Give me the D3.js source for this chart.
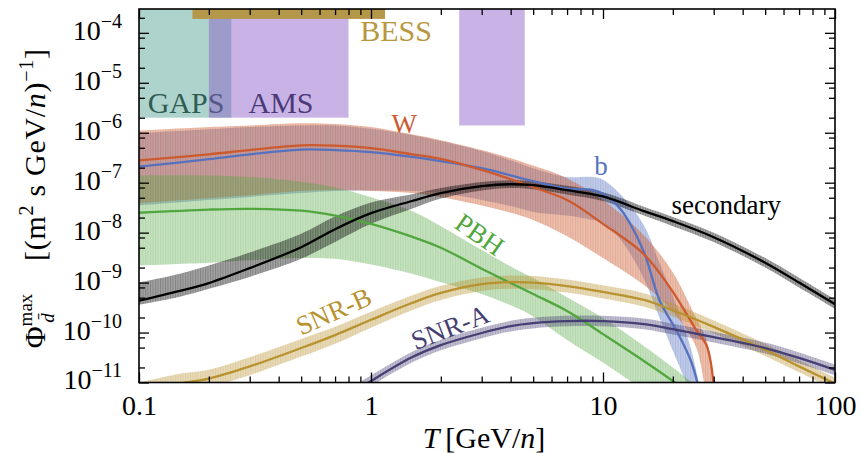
<!DOCTYPE html>
<html>
<head>
<meta charset="utf-8">
<script src="https://cdn.jsdelivr.net/npm/d3@7"></script>
<style>
  body { margin: 0; background: #fff; }
  svg { display: block; }
  text { font-family: "Liberation Serif", "DejaVu Serif", serif; }
</style>
</head>
<body>
<svg width="862" height="454"></svg>
<script>
// kinetic energy per nucleon [GeV/n] and antideuteron flux [(m^2 s GeV/n)^-1]
var tSec = [0.1, 0.15, 0.2, 0.3, 0.5, 0.7, 1, 1.5, 2, 3, 4, 5, 7, 10, 15, 20, 30, 50, 70, 100];
var secMid = [4.33e-10, 6.8e-10, 9.8e-10, 1.95e-9, 5.1e-9, 1.17e-8, 2.45e-8, 4.3e-8, 6.2e-8, 8.5e-8, 9.3e-8, 8.9e-8, 7.1e-8, 5.3e-8, 2.7e-8, 1.7e-8, 8.1e-9, 2.5e-9, 1.0e-9, 3.7e-10];
var secHi = [1.0e-9, 1.5e-9, 2.2e-9, 4.0e-9, 9.5e-9, 2.1e-8, 4.0e-8, 5.9e-8, 7.8e-8, 1.03e-7, 1.12e-7, 1.07e-7, 8.7e-8, 6.4e-8, 3.3e-8, 2.05e-8, 1.0e-8, 3.1e-9, 1.25e-9, 4.6e-10];
var secLo = [3.6e-10, 5.2e-10, 7.5e-10, 1.3e-9, 3.0e-9, 6.5e-9, 1.5e-8, 3.0e-8, 4.8e-8, 7.0e-8, 7.8e-8, 7.4e-8, 5.8e-8, 4.3e-8, 2.2e-8, 1.35e-8, 6.5e-9, 2.0e-9, 8e-10, 3e-10];

var tW = [0.1, 0.2, 0.3, 0.5, 0.7, 1, 1.5, 2, 3, 4, 5, 7, 10, 15, 20, 25, 28, 30];
var wMid = [2.8e-7, 3.7e-7, 4.5e-7, 5.6e-7, 5.5e-7, 4.9e-7, 3.7e-7, 3.0e-7, 1.8e-7, 1.17e-7, 8.1e-8, 4.5e-8, 1.5e-8, 3.7e-9, 6.5e-10, 1.2e-10, 5.4e-11, 9e-12];
var wHi = [1.1e-6, 1.3e-6, 1.4e-6, 1.55e-6, 1.5e-6, 1.3e-6, 9.3e-7, 7.1e-7, 4.5e-7, 3.1e-7, 2.2e-7, 1.23e-7, 4.5e-8, 8.9e-9, 1.6e-9, 2.1e-10, 7e-11, 1.1e-11];
var wLo = [3.9e-8, 4.9e-8, 5.6e-8, 6.8e-8, 7.1e-8, 6.8e-8, 6.2e-8, 5.1e-8, 3.5e-8, 2.5e-8, 1.8e-8, 8.5e-9, 3.1e-9, 8.9e-10, 2.6e-10, 5.6e-11, 6e-12, 3e-12];

var tB = [0.1, 0.2, 0.3, 0.5, 0.7, 1, 1.5, 2, 3, 4, 5, 7, 9, 10, 12, 15, 17.5, 21, 24, 26];
var bMid = [2.1e-7, 2.95e-7, 3.7e-7, 4.6e-7, 4.5e-7, 4.1e-7, 3.3e-7, 2.7e-7, 1.95e-7, 1.4e-7, 1.07e-7, 7.6e-8, 7.2e-8, 6.0e-8, 2.8e-8, 4.1e-9, 4.5e-10, 9.8e-11, 2.6e-11, 7e-12];
var bHi = [9.8e-7, 1.17e-6, 1.3e-6, 1.4e-6, 1.4e-6, 1.2e-6, 9e-7, 6.8e-7, 4.3e-7, 2.8e-7, 1.95e-7, 1.3e-7, 1.3e-7, 1.15e-7, 5.6e-8, 1.4e-8, 2.5e-9, 3e-10, 4.5e-11, 9e-12];
var bLo = [3.5e-8, 4.5e-8, 5.2e-8, 6.2e-8, 6.8e-8, 7e-8, 6.8e-8, 6.2e-8, 4.5e-8, 3.4e-8, 2.6e-8, 2.2e-8, 1.8e-8, 1.6e-8, 7e-9, 1.2e-9, 2e-10, 2.5e-11, 6e-12, 3e-12];

var tP = [0.1, 0.2, 0.3, 0.5, 0.7, 1, 1.5, 2, 3, 4, 5, 7, 10, 15, 20, 25];
var pMid = [2.5e-8, 2.9e-8, 3.0e-8, 2.75e-8, 2.2e-8, 1.5e-8, 8.3e-9, 5.0e-9, 1.9e-9, 9.8e-10, 5.9e-10, 2.7e-10, 9.3e-11, 2.7e-11, 1.07e-11, 4.9e-12];
var pHi = [1.4e-7, 1.4e-7, 1.3e-7, 1.05e-7, 8.1e-8, 5.1e-8, 2.7e-8, 1.35e-8, 4.5e-9, 2.1e-9, 1.23e-9, 5.1e-10, 1.95e-10, 5.4e-11, 2e-11, 9e-12];
var pLo = [2.2e-9, 2.5e-9, 2.8e-9, 3.1e-9, 3.0e-9, 2.3e-9, 1.5e-9, 1.02e-9, 5.9e-10, 3.5e-10, 2.1e-10, 7.1e-11, 2.5e-11, 7e-12, 3e-12, 2e-12];

var tSB = [0.1, 0.15, 0.2, 0.3, 0.5, 0.7, 1, 1.5, 2, 3, 4, 5, 7, 10, 15, 20, 30, 50, 70, 100];
var sbMid = [5.5e-12, 9.5e-12, 1.2e-11, 2.1e-11, 4.9e-11, 8.9e-11, 1.8e-10, 3.9e-10, 6.2e-10, 9.3e-10, 1.02e-9, 1.0e-9, 8.5e-10, 6.5e-10, 4.5e-10, 2.8e-10, 1.3e-10, 4.5e-11, 2.1e-11, 9.5e-12];
var sbHi = [1.0e-11, 1.5e-11, 1.8e-11, 3.2e-11, 7.4e-11, 1.3e-10, 2.6e-10, 5.5e-10, 8.6e-10, 1.27e-9, 1.38e-9, 1.35e-9, 1.15e-9, 8.8e-10, 6.1e-10, 3.8e-10, 1.75e-10, 6e-11, 2.8e-11, 1.25e-11];
var sbLo = [3.5e-12, 6e-12, 8e-12, 1.4e-11, 3.3e-11, 6e-11, 1.25e-10, 2.8e-10, 4.5e-10, 6.8e-10, 7.5e-10, 7.4e-10, 6.3e-10, 4.8e-10, 3.3e-10, 2.1e-10, 9.7e-11, 3.4e-11, 1.6e-11, 7.2e-12];

var tSA = [0.8, 0.9, 1, 1.5, 2, 3, 4, 5, 7, 10, 15, 20, 30, 50, 70, 100];
var saMid = [5e-12, 7.8e-12, 1.07e-11, 3.2e-11, 5.6e-11, 9.8e-11, 1.35e-10, 1.55e-10, 1.7e-10, 1.7e-10, 1.48e-10, 1.17e-10, 8.1e-11, 4.9e-11, 3.1e-11, 1.78e-11];
var saHi = [9e-12, 1.05e-11, 1.4e-11, 4.1e-11, 7.2e-11, 1.25e-10, 1.72e-10, 1.98e-10, 2.17e-10, 2.17e-10, 1.9e-10, 1.5e-10, 1.04e-10, 6.3e-11, 4e-11, 2.3e-11];
var saLo = [3e-12, 6e-12, 8.4e-12, 2.5e-11, 4.4e-11, 7.7e-11, 1.05e-10, 1.21e-10, 1.33e-10, 1.33e-10, 1.16e-10, 9.1e-11, 6.3e-11, 3.8e-11, 2.4e-11, 1.4e-11];

// experiment sensitivities
var gapsRange = [0.05, 0.25], gapsLimit = 2e-6;
var amsRanges = [[0.2, 0.8], [2.4, 4.6]], amsLimits = [2e-6, 1.4e-6];
var bessRange = [0.17, 1.15], bessLimit = 1.9e-4;

var xMajor = [0.1, 1, 10, 100];
var yMajor = [1e-11, 1e-10, 1e-9, 1e-8, 1e-7, 1e-6, 1e-5, 1e-4];

var svg = d3.select("svg");
var padL = 139, padR = 835, padT = 9, padB = 382.5;

var x = d3.scaleLog().domain([0.1, 100]).range([padL, padR]);
var y = d3.scaleLog().domain([1e-11, 3e-4]).range([padB, padT]);

var xMinor = [];
[0.1, 1, 10].forEach(function (p) {
    for (var k = 2; k <= 9; k++) xMinor.push(k * p);
});
var yMinor = [];
yMajor.forEach(function (p) {
    [2, 5, 8].forEach(function (k) {
        if (k * p < 3e-4) yMinor.push(k * p);
    });
});

var series = [
    { name: "b", t: tB, mid: bMid, lo: bLo, hi: bHi, color: "#5672bf", op: 0.45 },
    { name: "W", t: tW, mid: wMid, lo: wLo, hi: wHi, color: "#cc5a2e", op: 0.48 },
    { name: "PBH", t: tP, mid: pMid, lo: pLo, hi: pHi, color: "#51a63e", op: 0.4 },
    { name: "SNR-B", t: tSB, mid: sbMid, lo: sbLo, hi: sbHi, color: "#b8922f", op: 0.42 },
    { name: "SNR-A", t: tSA, mid: saMid, lo: saLo, hi: saHi, color: "#463f73", op: 0.42 },
    { name: "secondary", t: tSec, mid: secMid, lo: secLo, hi: secHi, color: "#000000", op: 0.45 }
];

var defs = svg.append("defs");
defs.append("clipPath").attr("id", "plot")
    .append("rect")
    .attr("x", padL).attr("y", padT)
    .attr("width", padR - padL).attr("height", padB - padT);

// striped fill, like many thin error bars side by side
series.forEach(function (s, i) {
    var p = defs.append("pattern").attr("id", "band" + i)
        .attr("patternUnits", "userSpaceOnUse")
        .attr("width", 2.5).attr("height", 10);
    p.append("rect").attr("width", 2.5).attr("height", 10)
        .attr("fill", s.color).attr("fill-opacity", s.op * 0.8);
    p.append("rect").attr("width", 1).attr("height", 10)
        .attr("fill", s.color).attr("fill-opacity", s.op * 0.45);
});

var plot = svg.append("g").attr("clip-path", "url(#plot)");

// detector regions
plot.append("rect")
    .attr("x", x(gapsRange[0])).attr("y", padT)
    .attr("width", x(gapsRange[1]) - x(gapsRange[0]))
    .attr("height", y(gapsLimit) - padT)
    .attr("fill", "#449988").attr("fill-opacity", 0.43);

plot.append("text").attr("x", 186).attr("y", 113)
    .attr("text-anchor", "middle").attr("font-size", 30)
    .attr("fill", "#2f5c53").text("GAPS");

amsRanges.forEach(function (r, i) {
    plot.append("rect")
        .attr("x", x(r[0])).attr("y", padT)
        .attr("width", x(r[1]) - x(r[0]))
        .attr("height", y(amsLimits[i]) - padT)
        .attr("fill", "#8756c7").attr("fill-opacity", 0.45);
});

plot.append("text").attr("x", 281).attr("y", 113)
    .attr("text-anchor", "middle").attr("font-size", 30)
    .attr("fill", "#4b3a78").text("AMS");

plot.append("rect")
    .attr("x", x(bessRange[0])).attr("y", padT)
    .attr("width", x(bessRange[1]) - x(bessRange[0]))
    .attr("height", y(bessLimit) - padT)
    .attr("fill", "#b5974a");

svg.append("text").attr("x", 396).attr("y", 41)
    .attr("text-anchor", "middle").attr("font-size", 30)
    .attr("fill", "#b8973f").text("BESS");

// model curves with uncertainty bands
var area = d3.area()
    .x(function (d) { return x(d.t); })
    .y0(function (d) { return y(d.lo); })
    .y1(function (d) { return y(d.hi); })
    .curve(d3.curveCatmullRom.alpha(0.5));

var line = d3.line()
    .x(function (d) { return x(d.t); })
    .y(function (d) { return y(d.v); })
    .curve(d3.curveCatmullRom.alpha(0.5));

series.forEach(function (s, i) {
    var pts = s.t.map(function (t, k) { return { t: t, lo: s.lo[k], hi: s.hi[k] }; });
    plot.append("path").attr("d", area(pts))
        .attr("fill", "url(#band" + i + ")");
});

series.forEach(function (s) {
    var pts = s.t.map(function (t, k) { return { t: t, v: s.mid[k] }; });
    plot.append("path").attr("d", line(pts))
        .attr("fill", "none").attr("stroke", s.color)
        .attr("stroke-width", 2.3);
});

// curve labels: [text, T, flux, rotation, colour]
var labels = [
    ["W", 1.39, 1.0e-6, 0, "#cc5a2e"],
    ["b", 9.8, 1.41e-7, 0, "#5672bf"],
    ["secondary", 34, 2.34e-8, 0, "#000000"],
    ["PBH", 2.95, 9.3e-9, 35, "#51a63e"],
    ["SNR-B", 0.69, 2.7e-10, -24, "#b8922f"],
    ["SNR-A", 2.19, 1.29e-10, -21, "#463f73"]
];

labels.forEach(function (l) {
    var t = svg.append("text")
        .attr("transform", "translate(" + x(l[1]) + "," + y(l[2]) + ") rotate(" + l[3] + ")")
        .attr("text-anchor", "middle")
        .attr("font-size", 27)
        .attr("fill", l[4])
        .text(l[0]);
    if (l[3] !== 0) t.attr("dy", "0.35em");
});

// axes, ticks pointing inward on all four sides
function styleAxis(g) {
    g.select(".domain").remove();
    g.selectAll(".tick line").attr("stroke", "#000").attr("stroke-width", 1.3);
}

svg.append("g").attr("transform", "translate(0," + padB + ")")
    .call(d3.axisBottom(x).tickValues(xMajor).tickSize(-10).tickPadding(13)
        .tickFormat(function (d) { return d < 1 ? "0.1" : d3.format("d")(d); }))
    .call(styleAxis)
    .call(function (g) {
        g.selectAll(".tick text").attr("font-size", 28).attr("fill", "#000")
            .attr("font-family", "Liberation Serif");
    });
svg.append("g").attr("transform", "translate(0," + padB + ")")
    .call(d3.axisBottom(x).tickValues(xMinor).tickSize(-6).tickFormat(""))
    .call(styleAxis);
svg.append("g").attr("transform", "translate(0," + padT + ")")
    .call(d3.axisTop(x).tickValues(xMajor).tickSize(-10).tickFormat(""))
    .call(styleAxis);
svg.append("g").attr("transform", "translate(0," + padT + ")")
    .call(d3.axisTop(x).tickValues(xMinor).tickSize(-6).tickFormat(""))
    .call(styleAxis);

svg.append("g").attr("transform", "translate(" + padL + ",0)")
    .call(d3.axisLeft(y).tickValues(yMajor).tickSize(-10).tickPadding(17).tickFormat(""))
    .call(styleAxis)
    .call(function (g) {
        g.selectAll(".tick text").each(function (d) {
            var t = d3.select(this)
                .attr("font-size", 28).attr("fill", "#000").attr("dy", "0.23em")
                .attr("font-family", "Liberation Serif");
            t.append("tspan").text("10");
            t.append("tspan").attr("font-size", 20).attr("dy", -12)
                .text("\u2212" + Math.round(-Math.log10(d)));
        });
    });
svg.append("g").attr("transform", "translate(" + padL + ",0)")
    .call(d3.axisLeft(y).tickValues(yMinor).tickSize(-6).tickFormat(""))
    .call(styleAxis);
svg.append("g").attr("transform", "translate(" + padR + ",0)")
    .call(d3.axisRight(y).tickValues(yMajor).tickSize(-10).tickFormat(""))
    .call(styleAxis);
svg.append("g").attr("transform", "translate(" + padR + ",0)")
    .call(d3.axisRight(y).tickValues(yMinor).tickSize(-6).tickFormat(""))
    .call(styleAxis);

svg.append("rect")
    .attr("x", padL).attr("y", padT)
    .attr("width", padR - padL).attr("height", padB - padT)
    .attr("fill", "none").attr("stroke", "#000").attr("stroke-width", 1.6);

// axis titles
var xt = svg.append("text").attr("x", 484).attr("y", 448)
    .attr("text-anchor", "middle").attr("font-size", 30).attr("fill", "#000");
xt.append("tspan").attr("font-style", "italic").text("T");
xt.append("tspan").text("\u2009[GeV/");
xt.append("tspan").attr("font-style", "italic").text("n");
xt.append("tspan").text("]");

var phi = svg.append("text")
    .attr("transform", "translate(45,321) rotate(-90)")
    .attr("text-anchor", "middle").attr("font-size", 30).attr("fill", "#000");
phi.append("tspan").text("\u03A6");
phi.append("tspan").attr("font-size", 19).attr("dy", -13).text("max");
phi.append("tspan").attr("font-size", 19).attr("font-style", "italic")
    .attr("dx", -29).attr("dy", 22).text("d\u0304");
phi.append("tspan").attr("dx", 20).attr("dy", -9).text("");

var unit = svg.append("text")
    .attr("transform", "translate(45,155) rotate(-90)")
    .attr("text-anchor", "middle").attr("font-size", 30).attr("fill", "#000")
    .attr("textLength", 212).attr("lengthAdjust", "spacing");
unit.append("tspan").text("[(m");
unit.append("tspan").attr("font-size", 20).attr("dy", -12).text("2");
unit.append("tspan").attr("dy", 12).text(" s GeV/");
unit.append("tspan").attr("font-style", "italic").text("n");
unit.append("tspan").text(")");
unit.append("tspan").attr("font-size", 20).attr("dy", -12).text("\u22121");
unit.append("tspan").attr("dy", 12).text("]");
</script>
</body>
</html>
